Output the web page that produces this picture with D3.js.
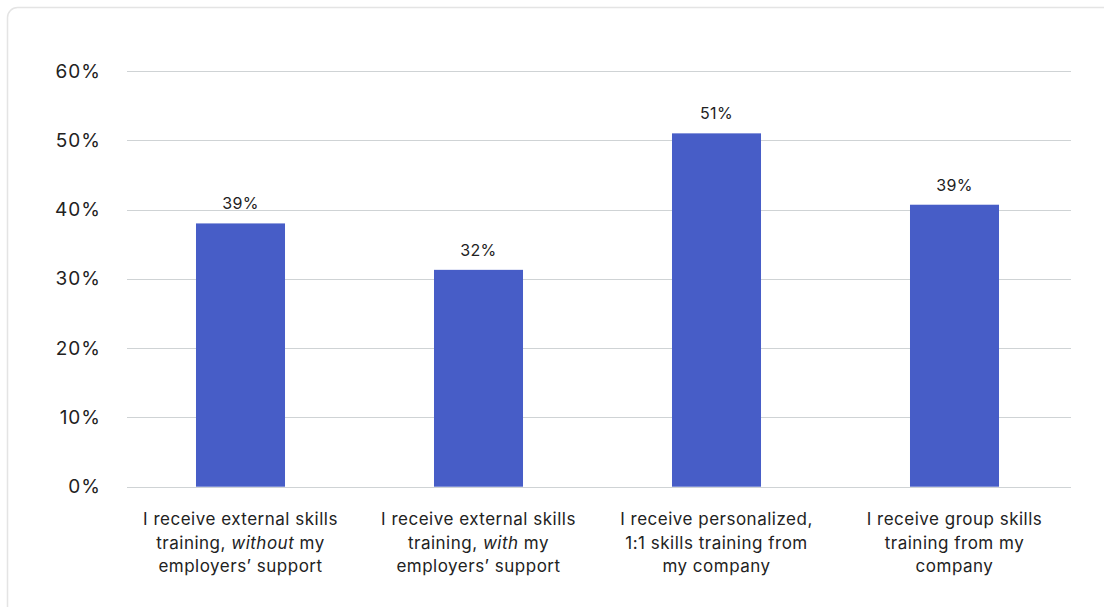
<!DOCTYPE html>
<html>
<head>
<meta charset="utf-8">
<script src="https://cdn.jsdelivr.net/npm/d3@7/dist/d3.min.js"></script>
<style>
  html, body { margin: 0; padding: 0; background: #fff; }
  svg { display: block; font-family: "Inter", "Noto Sans", sans-serif; }
</style>
</head>
<body>
<svg id="chart" width="1104" height="607"></svg>
<script>
// Data
const categories = [
  "I receive external skills training, *without* my employers’ support",
  "I receive external skills training, *with* my employers’ support",
  "I receive personalized, 1:1 skills training from my company",
  "I receive group skills training from my company"
];
// category label lines (italic segments between asterisks)
const categoryLines = [
  ["I receive external skills", "training, *without* my", "employers’ support"],
  ["I receive external skills", "training, *with* my", "employers’ support"],
  ["I receive personalized,", "1:1 skills training from", "my company"],
  ["I receive group skills", "training from my", "company"]
];
const values = [38.0, 31.3, 51.0, 40.7];          // bar heights as drawn (%)
const valueLabels = ["39%", "32%", "51%", "39%"];  // labels as printed
const yTicks = [0, 10, 20, 30, 40, 50, 60];

const svg = d3.select("#chart");

// card
svg.append("rect")
  .attr("x", 7.5).attr("y", 7.5)
  .attr("width", 1120).attr("height", 640)
  .attr("rx", 10)
  .attr("fill", "#fff")
  .attr("stroke", "#e4e4e4")
  .attr("stroke-width", 1.5);

const x = d3.scaleBand()
  .domain(categories)
  .range([121.5, 1073.5])
  .paddingInner(0.626)
  .paddingOuter(0.313);

const y = d3.scaleLinear().domain([0, 60]).range([486.7, 71]);

// gridlines
svg.append("g")
  .selectAll("line")
  .data(yTicks)
  .join("line")
  .attr("x1", 127).attr("x2", 1071)
  .attr("y1", d => Math.round(y(d)) + 0.5)
  .attr("y2", d => Math.round(y(d)) + 0.5)
  .attr("stroke", "#cfd3d5")
  .attr("stroke-width", 1.2);

// y tick labels
const yAxis = d3.axisLeft(y).tickValues(yTicks).tickFormat(d => d + "%").tickSize(0).tickPadding(0);
const gy = svg.append("g").attr("transform", "translate(101,0)").call(yAxis);
gy.select(".domain").remove();
gy.selectAll("text")
  .attr("font-size", 19)
  .attr("letter-spacing", 1)
  .attr("fill", "#222")
  .attr("font-family", "Inter, 'Noto Sans', sans-serif");

// bars
svg.append("g")
  .selectAll("rect")
  .data(values)
  .join("rect")
  .attr("x", (d, i) => x(categories[i]))
  .attr("width", x.bandwidth())
  .attr("y", d => y(d))
  .attr("height", d => y(0) - y(d))
  .attr("fill", "#475dc7");

// value labels
svg.append("g")
  .selectAll("text")
  .data(values)
  .join("text")
  .attr("x", (d, i) => x(categories[i]) + x.bandwidth() / 2)
  .attr("y", d => y(d) - 14)
  .attr("text-anchor", "middle")
  .attr("font-size", 16)
  .attr("letter-spacing", 0.3)
  .attr("fill", "#222")
  .text((d, i) => valueLabels[i]);

// category labels
const cg = svg.append("g");
categories.forEach((c, i) => {
  const cx = x(c) + x.bandwidth() / 2;
  const t = cg.append("text")
    .attr("text-anchor", "middle")
    .attr("font-size", 17)
    .attr("letter-spacing", 0.5)
    .attr("fill", "#222");
  categoryLines[i].forEach((line, li) => {
    const parts = line.split("*");
    parts.forEach((p, pi) => {
      if (p === "") return;
      const ts = t.append("tspan").text(p);
      if (pi % 2 === 1) ts.attr("font-style", "italic");
      if (pi === 0 || (pi === 1 && parts[0] === "")) {
        ts.attr("x", cx).attr("y", 525 + li * 23.7);
      }
    });
  });
});
</script>
</body>
</html>
